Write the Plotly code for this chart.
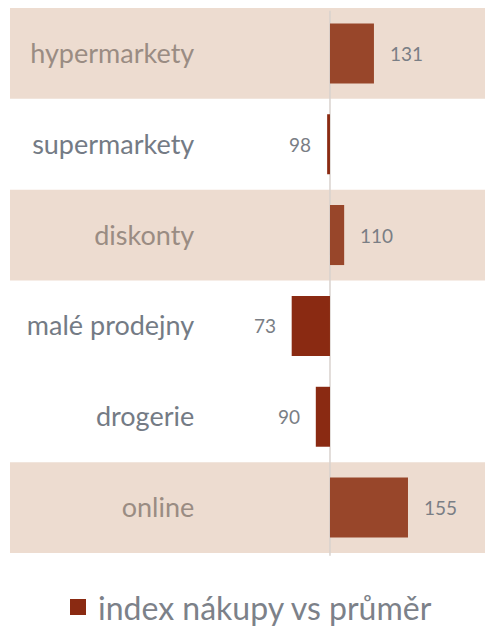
import plotly.graph_objects as go

categories = ["hypermarkety", "supermarkety", "diskonty", "malé prodejny", "drogerie", "online"]
values = [131, 98, 110, 73, 90, 155]
banded = [True, False, True, False, False, True]
series_name = "index nákupy vs průměr"
baseline = 100

POS = "#98462a"
NEG = "#8a2a12"
BAND = "#eddcd0"
LBL_BAND = "#9a8c83"
LBL_WHITE = "#747b85"

colors = [POS if v >= baseline else NEG for v in values]
ticktext = [f"<span style='color:{LBL_BAND if b else LBL_WHITE}'>{c}</span>"
            for c, b in zip(categories, banded)]

fig = go.Figure()
fig.add_trace(go.Bar(
    y=categories, x=[v - baseline for v in values], base=baseline,
    orientation="h", marker=dict(color=colors, line=dict(width=0)),
    width=0.66, showlegend=False, hoverinfo="skip"))
fig.add_trace(go.Scatter(
    y=[categories[0]], x=[None], mode="markers", name=series_name,
    marker=dict(color=NEG, symbol="square", size=17)))

for c, v in zip(categories, values):
    fig.add_annotation(
        x=v, y=c, xref="x", yref="y", text=str(v), showarrow=False,
        xanchor="left" if v >= baseline else "right",
        xshift=14 if v >= baseline else -14,
        font=dict(family="Lato", size=19, color="#7a7e85"))

for i, (c, b) in enumerate(zip(categories, banded)):
    if b:
        fig.add_shape(type="rect", xref="paper", yref="y",
                      x0=0, x1=1, y0=i - 0.5, y1=i + 0.5,
                      fillcolor=BAND, line=dict(width=0), layer="below")

fig.add_shape(type="line", xref="x", yref="paper", x0=baseline, x1=baseline,
              y0=-0.005, y1=0.995, line=dict(color="#d9d2ce", width=1.5), layer="below")

fig.update_layout(
    width=485, height=626,
    margin=dict(l=10, r=0, t=8, b=73, autoexpand=False),
    paper_bgcolor="white", plot_bgcolor="rgba(0,0,0,0)",
    font=dict(family="Lato"),
    barmode="overlay",
    xaxis=dict(domain=[0.39, 1], range=[5.0, 209.3], showgrid=False,
               zeroline=False, showticklabels=False, showline=False),
    yaxis=dict(categoryorder="array", categoryarray=categories,
               autorange="reversed", tickvals=categories, ticktext=ticktext,
               showgrid=False, zeroline=False, showline=False, ticks="",
               tickfont=dict(family="Lato", size=27)),
    legend=dict(orientation="h", x=0.5, xanchor="center",
                yref="container", y=0.03, yanchor="middle",
                font=dict(family="Lato", size=32, color="#7c8189")),
)

fig.write_html("out.html")
